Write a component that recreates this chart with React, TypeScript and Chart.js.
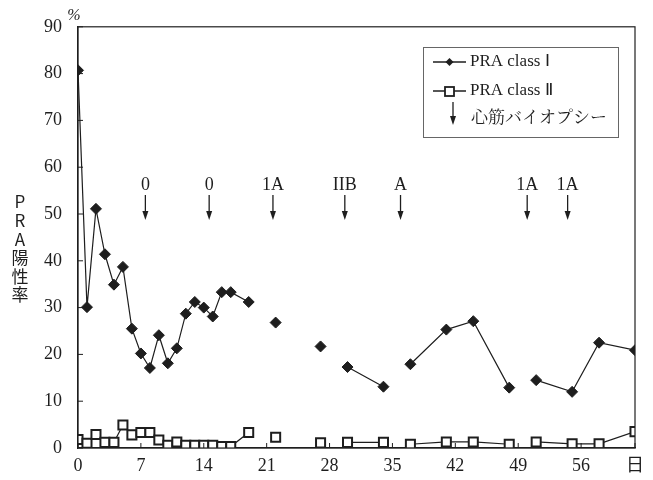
import React, { useEffect, useRef } from "react";
import { Chart, registerables } from "chart.js";

Chart.register(...registerables);

// Day of measurement (x) and PRA positive rate (%) — null breaks the line
const classIDays = [0, 1, 2, 3, 4, 5, 6, 7, 8, 9, 10, 11, 12, 13, 14, 15, 16, 17, 19, 20.5, 22, 24.5, 27, 28.5, 30, 34, 35.5, 37, 41, 44, 48, 49.5, 51, 55, 58, 62];
const classIValues: (number | null)[] = [80.7, 30.1, 51.1, 41.4, 34.9, 38.7, 25.5, 20.2, 17.1, 24.1, 18.1, 21.3, 28.7, 31.2, 30.0, 28.1, 33.3, 33.3, 31.2, null, 26.8, null, 21.7, null, 17.3, 13.1, null, 17.9, 25.3, 27.1, 12.9, null, 14.5, 12.0, 22.5, 20.9];
const classIIValues: (number | null)[] = [1.8, 1.0, 2.9, 1.2, 1.2, 4.9, 2.8, 3.3, 3.3, 1.7, 0.6, 1.3, 0.6, 0.6, 0.6, 0.6, 0.3, 0.3, 3.3, null, 2.3, null, 1.1, null, 1.2, 1.2, null, 0.8, 1.3, 1.3, 0.8, null, 1.3, 0.9, 0.9, 3.5];

// Myocardial biopsy days and grades
const biopsyDays = [7.5, 14.6, 21.7, 29.7, 35.9, 50.0, 54.5];
const biopsyLabels = ["0", "0", "1A", "IIB", "A", "1A", "1A"];

const xTickValues = [0, 7, 14, 21, 28, 35, 42, 49, 56, 62];
const xTickLabels = ["0", "7", "14", "21", "28", "35", "42", "49", "56", "日"];
const yTickValues = [0, 10, 20, 30, 40, 50, 60, 70, 80, 90];

const legendLabels = ["PRA class Ⅰ", "PRA class Ⅱ", "心筋バイオプシー"];
const yTitleChars = ["P", "R", "A", "陽", "性", "率"];

const SERIF = "'Liberation Serif', 'Times New Roman', serif";
const INK = "#1e1e1e";

function drawArrow(ctx: CanvasRenderingContext2D, x: number, y1: number, y2: number) {
  ctx.beginPath();
  ctx.moveTo(x, y1);
  ctx.lineTo(x, y2 - 6);
  ctx.strokeStyle = INK;
  ctx.lineWidth = 1.3;
  ctx.stroke();
  ctx.beginPath();
  ctx.moveTo(x - 3, y2 - 9);
  ctx.lineTo(x + 3, y2 - 9);
  ctx.lineTo(x, y2);
  ctx.closePath();
  ctx.fillStyle = INK;
  ctx.fill();
}

const decorPlugin = {
  id: "decor",
  afterDraw(chart: any) {
    const ctx: CanvasRenderingContext2D = chart.ctx;
    const { left, right, top, bottom } = chart.chartArea;
    const xs = chart.scales.x;
    const ys = chart.scales.y;
    ctx.save();
    // frame
    ctx.strokeStyle = INK;
    ctx.lineWidth = 1.2;
    ctx.strokeRect(left, top, right - left, bottom - top);
    // inward ticks
    ctx.lineWidth = 1;
    yTickValues.forEach((v) => {
      const py = ys.getPixelForValue(v);
      ctx.beginPath();
      ctx.moveTo(left, py);
      ctx.lineTo(left + 5, py);
      ctx.stroke();
    });
    xTickValues.forEach((v) => {
      const px = xs.getPixelForValue(v);
      ctx.beginPath();
      ctx.moveTo(px, bottom);
      ctx.lineTo(px, bottom - 5);
      ctx.stroke();
    });
    // % unit
    ctx.fillStyle = INK;
    ctx.font = `italic 16px ${SERIF}`;
    ctx.textAlign = "center";
    ctx.textBaseline = "middle";
    ctx.fillText("%", left - 4, top - 11);
    // y title (vertical stacked)
    ctx.font = "17px 'Noto Sans CJK JP', 'Noto Sans', sans-serif";
    yTitleChars.forEach((c, i) => {
      ctx.fillText(c, 20, 202 + i * 18.6);
    });
    // biopsy arrows
    biopsyDays.forEach((d, i) => {
      const px = xs.getPixelForValue(d);
      ctx.font = `18px ${SERIF}`;
      ctx.fillStyle = INK;
      ctx.textAlign = "center";
      ctx.textBaseline = "middle";
      ctx.fillText(biopsyLabels[i], px, 185);
      drawArrow(ctx, px, 195, 220);
    });
    // legend
    const bx = 423, by = 47, bw = 195, bh = 90;
    ctx.strokeStyle = "#666";
    ctx.lineWidth = 1;
    ctx.strokeRect(bx + 0.5, by + 0.5, bw, bh);
    ctx.strokeStyle = INK;
    ctx.lineWidth = 1.5;
    // entry 1
    ctx.beginPath();
    ctx.moveTo(433, 62);
    ctx.lineTo(466, 62);
    ctx.stroke();
    ctx.beginPath();
    ctx.moveTo(449.5, 58);
    ctx.lineTo(453.5, 62);
    ctx.lineTo(449.5, 66);
    ctx.lineTo(445.5, 62);
    ctx.closePath();
    ctx.fillStyle = INK;
    ctx.fill();
    // entry 2
    ctx.beginPath();
    ctx.moveTo(433, 91);
    ctx.lineTo(466, 91);
    ctx.stroke();
    ctx.fillStyle = "#fff";
    ctx.fillRect(445, 87, 9, 9);
    ctx.lineWidth = 1.8;
    ctx.strokeRect(445, 87, 9, 9);
    // entry 3
    drawArrow(ctx, 453, 102, 125);
    ctx.fillStyle = INK;
    ctx.textAlign = "left";
    ctx.textBaseline = "middle";
    ctx.font = `17px ${SERIF}`;
    ctx.fillText(legendLabels[0], 470, 62);
    ctx.fillText(legendLabels[1], 470, 91);
    ctx.font = "17px 'Noto Serif CJK JP', 'Noto Sans CJK JP', sans-serif";
    ctx.fillText(legendLabels[2], 471, 117);
    ctx.restore();
  },
};

export default function App() {
  const ref = useRef<HTMLCanvasElement | null>(null);
  useEffect(() => {
    if (!ref.current) return;
    const chart = new Chart(ref.current, {
      type: "line",
      data: {
        datasets: [
          {
            label: legendLabels[0],
            data: classIDays.map((d, i) => ({ x: d, y: classIValues[i] })) as any,
            borderColor: INK,
            borderWidth: 1.2,
            pointStyle: "rectRot",
            pointRadius: 5.5,
            pointBackgroundColor: INK,
            pointBorderColor: INK,
            pointBorderWidth: 1,
            spanGaps: false,
            tension: 0,
          },
          {
            label: legendLabels[1],
            data: classIDays.map((d, i) => ({ x: d, y: classIIValues[i] })) as any,
            borderColor: INK,
            borderWidth: 1.2,
            pointStyle: "rect",
            pointRadius: 6.4,
            pointBackgroundColor: "#fff",
            pointBorderColor: INK,
            pointBorderWidth: 2,
            spanGaps: false,
            tension: 0,
          },
        ],
      },
      options: {
        animation: false,
        responsive: false,
        maintainAspectRatio: false,
        layout: { padding: { left: 0, top: 26, right: 18, bottom: 0 } },
        plugins: { legend: { display: false }, tooltip: { enabled: false } },
        scales: {
          x: {
            type: "linear",
            min: 0,
            max: 62,
            grid: { display: false, drawTicks: false },
            border: { display: true, color: INK, width: 1.2 },
            afterBuildTicks: (scale: any) => {
              scale.ticks = xTickValues.map((v) => ({ value: v }));
            },
            afterFit: (scale: any) => {
              scale.height = 32;
            },
            ticks: {
              autoSkip: false,
              maxRotation: 0,
              padding: 7,
              color: INK,
              font: { family: "'Liberation Serif', 'Noto Sans CJK JP', serif", size: 18 },
              callback: (v: any) => {
                const i = xTickValues.indexOf(Number(v));
                return i >= 0 ? xTickLabels[i] : "";
              },
            },
          },
          y: {
            min: 0,
            max: 90,
            grid: { display: false, drawTicks: false },
            border: { display: true, color: INK, width: 1.2 },
            afterBuildTicks: (scale: any) => {
              scale.ticks = yTickValues.map((v) => ({ value: v }));
            },
            afterFit: (scale: any) => {
              scale.width = 78;
            },
            ticks: {
              padding: 16,
              color: INK,
              font: { family: SERIF, size: 18 },
            },
          },
        },
      },
      plugins: [decorPlugin],
    });
    return () => chart.destroy();
  }, []);
  return (
    <div style={{ position: "absolute", left: 0, top: 0, width: 653, height: 480, background: "#fff" }}>
      <canvas ref={ref} width={653} height={480} style={{ width: 653, height: 480 }} />
    </div>
  );
}
